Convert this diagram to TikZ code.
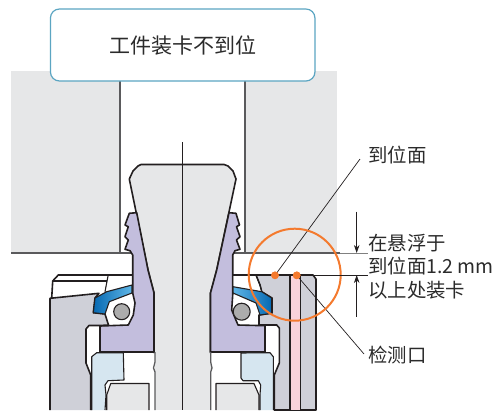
\documentclass[tikz,border=0pt]{standalone}
\usepackage{fontspec}
\setmainfont{Noto Sans CJK SC}
\usetikzlibrary{arrows.meta}
\definecolor{plate}{HTML}{E6E7E8}
\definecolor{ink}{HTML}{231F20}
\definecolor{steel}{HTML}{5A5A5C}
\definecolor{purp}{HTML}{C3BEDD}
\definecolor{house}{HTML}{CFD0D8}
\definecolor{ice}{HTML}{D6E6F0}
\definecolor{pinkc}{HTML}{F8D2DA}
\definecolor{orangec}{HTML}{F47A2E}
\definecolor{teal}{HTML}{5BA5C2}
\definecolor{bluedark}{HTML}{0669B2}
\definecolor{bluelight}{HTML}{5FB6E6}
\definecolor{txt}{HTML}{2B2B2B}
\tikzset{
  part/.style={draw=ink,line width=1.6pt,line join=round},
  thinpart/.style={draw=ink,line width=1.1pt,line join=round},
  plateedge/.style={draw=steel,line width=1.5pt},
  leader/.style={draw=ink,line width=0.7pt},
  ext/.style={line width=1pt},
  dimarrow/.style={draw=ink,line width=0.7pt,-{Stealth[length=8pt,width=5.5pt]}},
  lbl/.style={anchor=west,inner sep=0pt,text=txt,font=\fontsize{19.4}{20}\selectfont},
  dot/.style={circle,fill=orangec,inner sep=0pt,minimum size=7.6pt},
}
\begin{document}
\begin{tikzpicture}[x=1pt,y=-1pt]
\useasboundingbox (0,0) rectangle (498,410);
% plate
\fill[plate] (11,71) rectangle (120,253);
\fill[plate] (245,71) rectangle (337,253);
\draw[plateedge] (120,81) -- (120,253);
\draw[plateedge] (245,81) -- (245,253);
\draw[plateedge] (11,253) -- (132,253);
\draw[draw=steel,line width=1.4pt] (233,253) -- (340,253);
\draw[draw=gray,line width=1pt] (340,253) -- (368,253);
% tapered pin
\fill[plate] (155,352) rectangle (211,410);
\draw[part,fill=plate] (154,353) -- (154,293) -- (148,270) -- (129.3,179) -- (133,171) -- (138,166) -- (141,164.5) -- (224,164.5) -- (228,166) -- (233,171) -- (236,179) -- (216.7,270) -- (210.5,293) -- (210.5,353);
% purple parts
\draw[part,fill=purp] (136.7,212.7) -- (129.3,213.3) -- (125,225) -- (128.3,226.7) -- (125,236.7) -- (128.3,240) -- (125,249.3) -- (130,250.7) -- (132.7,255) -- (132.7,293) -- (135,303) -- (133.3,315) -- (128.3,325) -- (100,326) -- (100,352) -- (154,352) -- (154,293) -- (148,270) -- cycle;
\draw[part,fill=purp] (229,212.7) -- (236,213.3) -- (239.5,225) -- (236.5,226.7) -- (240,236.7) -- (236.5,240) -- (240,249.3) -- (235,250.7) -- (232.7,255) -- (232.7,295) -- (231.7,310) -- (238,325) -- (265,325.7) -- (265,352) -- (210.5,352) -- (210.5,293) -- (216.7,270) -- cycle;
% left housing
\draw[part,fill=white] (51.7,298) -- (52.7,281) -- (58.3,275) -- (132.7,275);
\draw[thinpart] (52.7,281) -- (107,281);
\draw[thinpart] (108,276) -- (105,291.7);
\draw[part,fill=house] (50,410) -- (50,298.3) -- (99,293.3) -- (95,298) -- (93.3,312.7) -- (105,314) -- (108.5,325) -- (100,325.5) -- (89,325.5) -- (86,329) -- (86,363) -- (90.7,375) -- (90.7,410);
% right housing
\draw[part,fill=house] (232.7,275) -- (310,275) -- (313,275) -- (316,279) -- (316,410) -- (274.3,410) -- (274.3,375) -- (279.3,363) -- (279.3,328) -- (276.7,325) -- (259,325) -- (259,315) -- (272,313) -- (272,298) -- (261.7,291.7) -- (260,285) -- (256,275);
\fill[white] (233.5,276) -- (255.5,276) -- (260.8,291) -- (233.5,286.5) -- cycle;
\draw[thinpart] (256,275.5) -- (260,285) -- (261.7,291.7);
% pink strip
\draw[thinpart,fill=pinkc] (290,410) -- (290,275.5) -- (300.7,275.5) -- (300.7,410);
% blue seals
\draw[thinpart,left color=bluedark,right color=bluelight] (132,285) -- (106.7,291.7) -- (95,298) -- (93.3,312.7) -- (105,314) -- (109.3,301.7) -- (132,293) -- cycle;
\draw[thinpart,left color=bluelight,right color=bluedark] (233,286.7) -- (261.7,291.7) -- (271.7,298) -- (271.7,313.3) -- (260,315) -- (256,303) -- (233,293) -- cycle;
% balls
\draw[thinpart,fill=gray!65] (121.7,311.7) circle[radius=8pt];
\draw[thinpart,fill=gray!65] (241.7,311.7) circle[radius=8.5pt];
% ice-blue sleeves
\draw[thinpart,fill=ice] (91.7,410) -- (91.7,356.7) -- (96.7,352.7) -- (123.3,352.7) -- (124,380) -- (108,380.7) -- (105,385) -- (106,395) -- (105,410);
\draw[thinpart,fill=ice] (260,410) -- (260,395) -- (260.7,385) -- (258.3,380.7) -- (243,380.7) -- (241,378) -- (241,353) -- (270,352.7) -- (273.3,356.7) -- (273.3,410);
% inner gray blocks
\draw[thinpart,fill=plate] (106.7,410) -- (106.7,395) -- (110.7,383.5) -- (149,383.5) -- (149,410);
\draw[thinpart,fill=plate] (216,410) -- (216,383.5) -- (254,383.5) -- (259,395) -- (259,410);
% pin edges below seat
\draw[draw=steel,line width=1.3pt] (155,352) -- (155,362) -- (153.5,368) -- (155,372) -- (155,410);
\draw[draw=steel,line width=1.3pt] (210.7,352) -- (210.7,362) -- (212,368) -- (210.7,372) -- (210.7,410);
% centre line
\draw[draw=ink,line width=0.6pt] (182.5,142) -- (182.5,410);
% leaders and labels
\node[dot] (d1) at (275,275.3) {};
\node[dot] (d2) at (296.7,275.3) {};
\coordinate (lend1) at (360,159);
\coordinate (lend2) at (364,354);
\draw[leader] (d1.center) -- (lend1);
\draw[leader] (d2.center) -- (lend2);
\draw[draw=orangec,line width=2pt] (294.7,274.7) circle[radius=46pt];
\node[dot] at (d1) {};
\node[dot] at (d2) {};
\coordinate (e2) at (368,275);
\coordinate (e0) at (313,275);
\draw[draw=ink,ext] (e0) -- (e2);
\coordinate (a1s) at (356.7,211.7);
\coordinate (a1e) at (356.7,253);
\coordinate (a2s) at (356.7,316.7);
\coordinate (a2e) at (356.7,275);
\draw[dimarrow] (a1s) -- (a1e);
\draw[dimarrow] (a2s) -- (a2e);
\node[lbl] (t1) at (368,155) {到位面};
\node[lbl] (t2) at (368,242.7) {在悬浮于};
\node[lbl] (t3) at (368,266) {到位面1.2 mm};
\node[lbl] (t4) at (368,290.5) {以上处装卡};
\node[lbl] (t5) at (368,355) {检测口};
% title
\node[draw=teal,line width=1.2pt,fill=white,rounded corners=9pt,minimum width=264.5pt,minimum height=72pt,inner sep=0pt,text=txt,font=\fontsize{21}{22}\selectfont] (title) at (182.7,45) {工件装卡不到位};
\end{tikzpicture}
\end{document}
